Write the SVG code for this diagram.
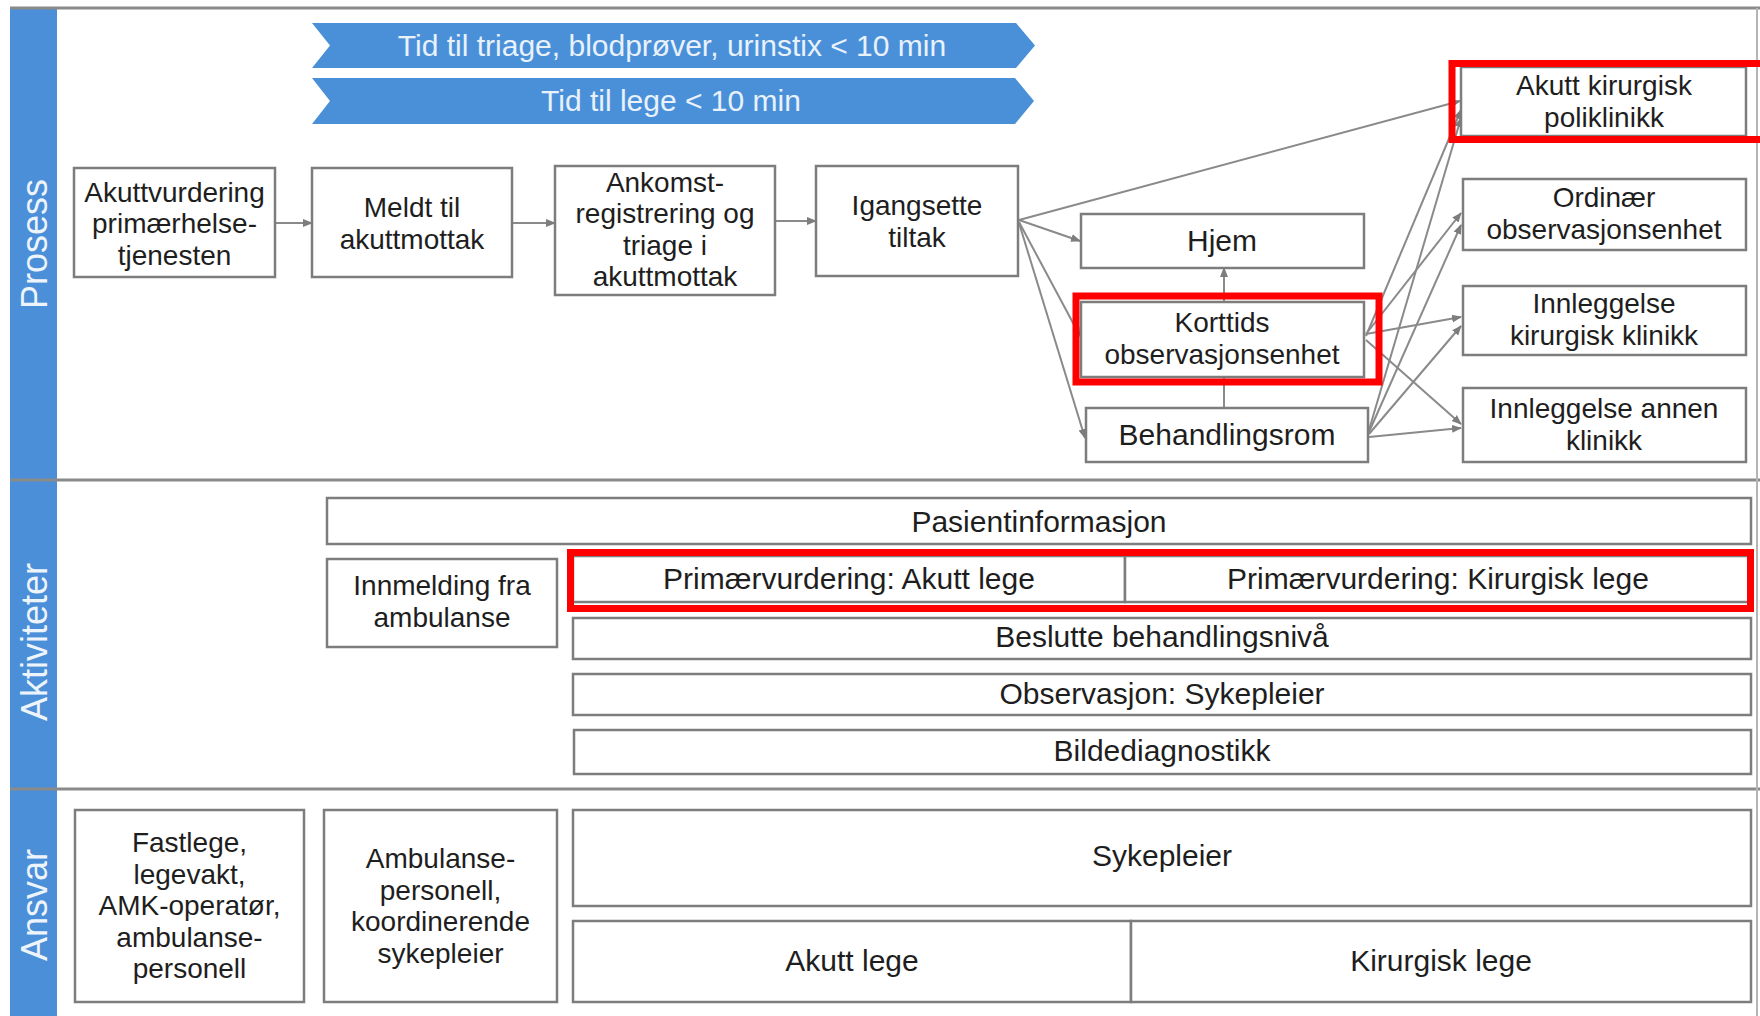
<svg xmlns="http://www.w3.org/2000/svg" width="1760" height="1016" viewBox="0 0 1760 1016">
  <style>
    .box { fill: #ffffff; stroke: #7d7d7d; stroke-width: 2.5; }
    .t { font-family: "Liberation Sans", Arial, sans-serif; font-size: 30px; fill: #1e1e1e; text-anchor: middle; }
    .m { font-size: 28px; }
    .lane { font-family: "Liberation Sans", Arial, sans-serif; font-size: 36px; fill: #eef4fb; text-anchor: middle; dominant-baseline: central; }
    .ban { fill: #4a90d9; }
    .bantxt { font-family: "Liberation Sans", Arial, sans-serif; font-size: 30px; fill: #e9f1fb; text-anchor: middle; }
    .sep { stroke: #8a8a8a; stroke-width: 3; fill: none; }
    .con { stroke: #8a8a8a; stroke-width: 2; fill: none; }
    .arr { marker-end: url(#ah); }
    .hl { fill: none; stroke: #ff0000; stroke-width: 7; }
  </style>
  <defs>
    <marker id="ah" viewBox="0 0 10 10" refX="9" refY="5" markerWidth="10" markerHeight="10" markerUnits="userSpaceOnUse" orient="auto">
      <path d="M0,1 L10,5 L0,9 z" fill="#7d7d7d"/>
    </marker>
  </defs>

  <rect x="0" y="0" width="1760" height="1016" fill="#ffffff"/>

  <!-- lane strip and frame -->
  <g id="lanes">
    <rect x="10" y="9" width="47" height="1007" fill="#4a8fd7"/>
    <line class="sep" x1="10" y1="8" x2="1760" y2="8"/>
    <line class="sep" x1="10" y1="480" x2="1760" y2="480"/>
    <line class="sep" x1="10" y1="789" x2="1760" y2="789"/>
    <line x1="1757" y1="8" x2="1757" y2="1016" stroke="#b5b5b5" stroke-width="2"/>
    <text class="lane" transform="translate(34,244) rotate(-90)">Prosess</text>
    <text class="lane" transform="translate(34,642) rotate(-90)">Aktiviteter</text>
    <text class="lane" transform="translate(34,905) rotate(-90)">Ansvar</text>
  </g>

  <!-- time target banners -->
  <g id="banner-triage">
    <polygon class="ban" points="312,23 1016,23 1035,45.5 1016,68 312,68 330,45.5"/>
    <text class="bantxt" x="672" y="56">Tid til triage, blodprøver, urinstix &lt; 10 min</text>
  </g>
  <g id="banner-lege">
    <polygon class="ban" points="312,78 1015,78 1034,101 1015,124 312,124 330,101"/>
    <text class="bantxt" x="671" y="111">Tid til lege &lt; 10 min</text>
  </g>

  <!-- connectors -->
  <g id="connectors">
    <line class="con arr" x1="275" y1="223" x2="312" y2="223"/>
    <line class="con arr" x1="512" y1="223" x2="555" y2="223"/>
    <line class="con arr" x1="775" y1="221" x2="816" y2="221"/>

    <line class="con arr" x1="1019" y1="220" x2="1460" y2="101"/>
    <line class="con arr" x1="1019" y1="220" x2="1080" y2="241"/>
    <line class="con arr" x1="1019" y1="222" x2="1080" y2="336"/>
    <line class="con arr" x1="1019" y1="223" x2="1085" y2="438"/>

    <line class="con arr" x1="1224" y1="302" x2="1224" y2="268"/>
    <line class="con" x1="1224" y1="408" x2="1224" y2="378"/>

    <line class="con arr" x1="1366" y1="336" x2="1461" y2="110"/>
    <line class="con arr" x1="1366" y1="334" x2="1461" y2="213"/>
    <line class="con arr" x1="1366" y1="334" x2="1461" y2="317"/>
    <line class="con arr" x1="1366" y1="340" x2="1461" y2="424"/>

    <line class="con arr" x1="1369" y1="430" x2="1461" y2="118"/>
    <line class="con arr" x1="1369" y1="432" x2="1461" y2="225"/>
    <line class="con arr" x1="1369" y1="434" x2="1461" y2="326"/>
    <line class="con arr" x1="1369" y1="437" x2="1461" y2="428" stroke-width="3"/>
  </g>

  <!-- process nodes -->
  <g id="n-akuttvurdering">
    <rect class="box" x="74" y="168" width="201" height="109"/>
    <text class="t m" x="174.5" y="201.5">Akuttvurdering</text>
    <text class="t m" x="174.5" y="233">primærhelse-</text>
    <text class="t m" x="174.5" y="264.5">tjenesten</text>
  </g>
  <g id="n-meldt">
    <rect class="box" x="312" y="168" width="200" height="109"/>
    <text class="t m" x="412" y="217">Meldt til</text>
    <text class="t m" x="412" y="248.5">akuttmottak</text>
  </g>
  <g id="n-ankomst">
    <rect class="box" x="555" y="166" width="220" height="129"/>
    <text class="t m" x="665" y="191.5">Ankomst-</text>
    <text class="t m" x="665" y="223">registrering og</text>
    <text class="t m" x="665" y="254.5">triage i</text>
    <text class="t m" x="665" y="286">akuttmottak</text>
  </g>
  <g id="n-igangsette">
    <rect class="box" x="816" y="166" width="202" height="110"/>
    <text class="t m" x="917" y="215">Igangsette</text>
    <text class="t m" x="917" y="246.5">tiltak</text>
  </g>
  <g id="n-hjem">
    <rect class="box" x="1081" y="214" width="283" height="54"/>
    <text class="t" x="1222" y="251">Hjem</text>
  </g>
  <g id="n-korttids">
    <rect class="box" x="1081" y="302" width="283" height="75"/>
    <text class="t m" x="1222" y="332">Korttids</text>
    <text class="t m" x="1222" y="363.5">observasjonsenhet</text>
  </g>
  <g id="n-behandlingsrom">
    <rect class="box" x="1086" y="408" width="282" height="54"/>
    <text class="t" x="1227" y="445">Behandlingsrom</text>
  </g>
  <g id="n-poliklinikk">
    <rect class="box" x="1461" y="67" width="285" height="69"/>
    <text class="t m" x="1604" y="95">Akutt kirurgisk</text>
    <text class="t m" x="1604" y="126.5">poliklinikk</text>
  </g>
  <g id="n-ordinaer">
    <rect class="box" x="1463" y="179" width="283" height="71"/>
    <text class="t m" x="1604" y="207">Ordinær</text>
    <text class="t m" x="1604" y="238.5">observasjonsenhet</text>
  </g>
  <g id="n-innl-kir">
    <rect class="box" x="1463" y="286" width="283" height="69"/>
    <text class="t m" x="1604" y="313">Innleggelse</text>
    <text class="t m" x="1604" y="344.5">kirurgisk klinikk</text>
  </g>
  <g id="n-innl-annen">
    <rect class="box" x="1463" y="388" width="283" height="74"/>
    <text class="t m" x="1604" y="418">Innleggelse annen</text>
    <text class="t m" x="1604" y="449.5">klinikk</text>
  </g>

  <!-- activity rows -->
  <g id="a-pasientinfo">
    <rect class="box" x="327" y="498" width="1424" height="46"/>
    <text class="t" x="1039" y="532">Pasientinformasjon</text>
  </g>
  <g id="a-innmelding">
    <rect class="box" x="327" y="559" width="230" height="88"/>
    <text class="t m" x="442" y="595">Innmelding fra</text>
    <text class="t m" x="442" y="626.5">ambulanse</text>
  </g>
  <g id="a-primaer-akutt">
    <rect class="box" x="573" y="556" width="552" height="46"/>
    <text class="t" x="849" y="589">Primærvurdering: Akutt lege</text>
  </g>
  <g id="a-primaer-kir">
    <rect class="box" x="1125" y="556" width="626" height="46"/>
    <text class="t" x="1438" y="589">Primærvurdering: Kirurgisk lege</text>
  </g>
  <g id="a-beslutte">
    <rect class="box" x="573" y="618" width="1178" height="41"/>
    <text class="t" x="1162" y="647">Beslutte behandlingsnivå</text>
  </g>
  <g id="a-observasjon">
    <rect class="box" x="573" y="674" width="1178" height="41"/>
    <text class="t" x="1162" y="704">Observasjon: Sykepleier</text>
  </g>
  <g id="a-bildediagnostikk">
    <rect class="box" x="574" y="730" width="1177" height="44"/>
    <text class="t" x="1162" y="761">Bildediagnostikk</text>
  </g>

  <!-- responsibility rows -->
  <g id="r-fastlege">
    <rect class="box" x="75" y="810" width="229" height="192"/>
    <text class="t m" x="189.5" y="852">Fastlege,</text>
    <text class="t m" x="189.5" y="883.5">legevakt,</text>
    <text class="t m" x="189.5" y="915">AMK-operatør,</text>
    <text class="t m" x="189.5" y="946.5">ambulanse-</text>
    <text class="t m" x="189.5" y="978">personell</text>
  </g>
  <g id="r-ambulanse">
    <rect class="box" x="324" y="810" width="233" height="192"/>
    <text class="t m" x="440.5" y="868">Ambulanse-</text>
    <text class="t m" x="440.5" y="899.5">personell,</text>
    <text class="t m" x="440.5" y="931">koordinerende</text>
    <text class="t m" x="440.5" y="962.5">sykepleier</text>
  </g>
  <g id="r-sykepleier">
    <rect class="box" x="573" y="810" width="1178" height="96"/>
    <text class="t" x="1162" y="866">Sykepleier</text>
  </g>
  <g id="r-akutt-lege">
    <rect class="box" x="573" y="921" width="558" height="81"/>
    <text class="t" x="852" y="971">Akutt lege</text>
  </g>
  <g id="r-kirurgisk-lege">
    <rect class="box" x="1131" y="921" width="620" height="81"/>
    <text class="t" x="1441" y="971">Kirurgisk lege</text>
  </g>

  <!-- red emphasis frames -->
  <g id="highlights">
    <rect class="hl" x="1452" y="63.5" width="320" height="76"/>
    <rect class="hl" x="1076" y="296" width="303" height="86"/>
    <rect class="hl" x="570.5" y="552.5" width="1180" height="56"/>
  </g>
</svg>
